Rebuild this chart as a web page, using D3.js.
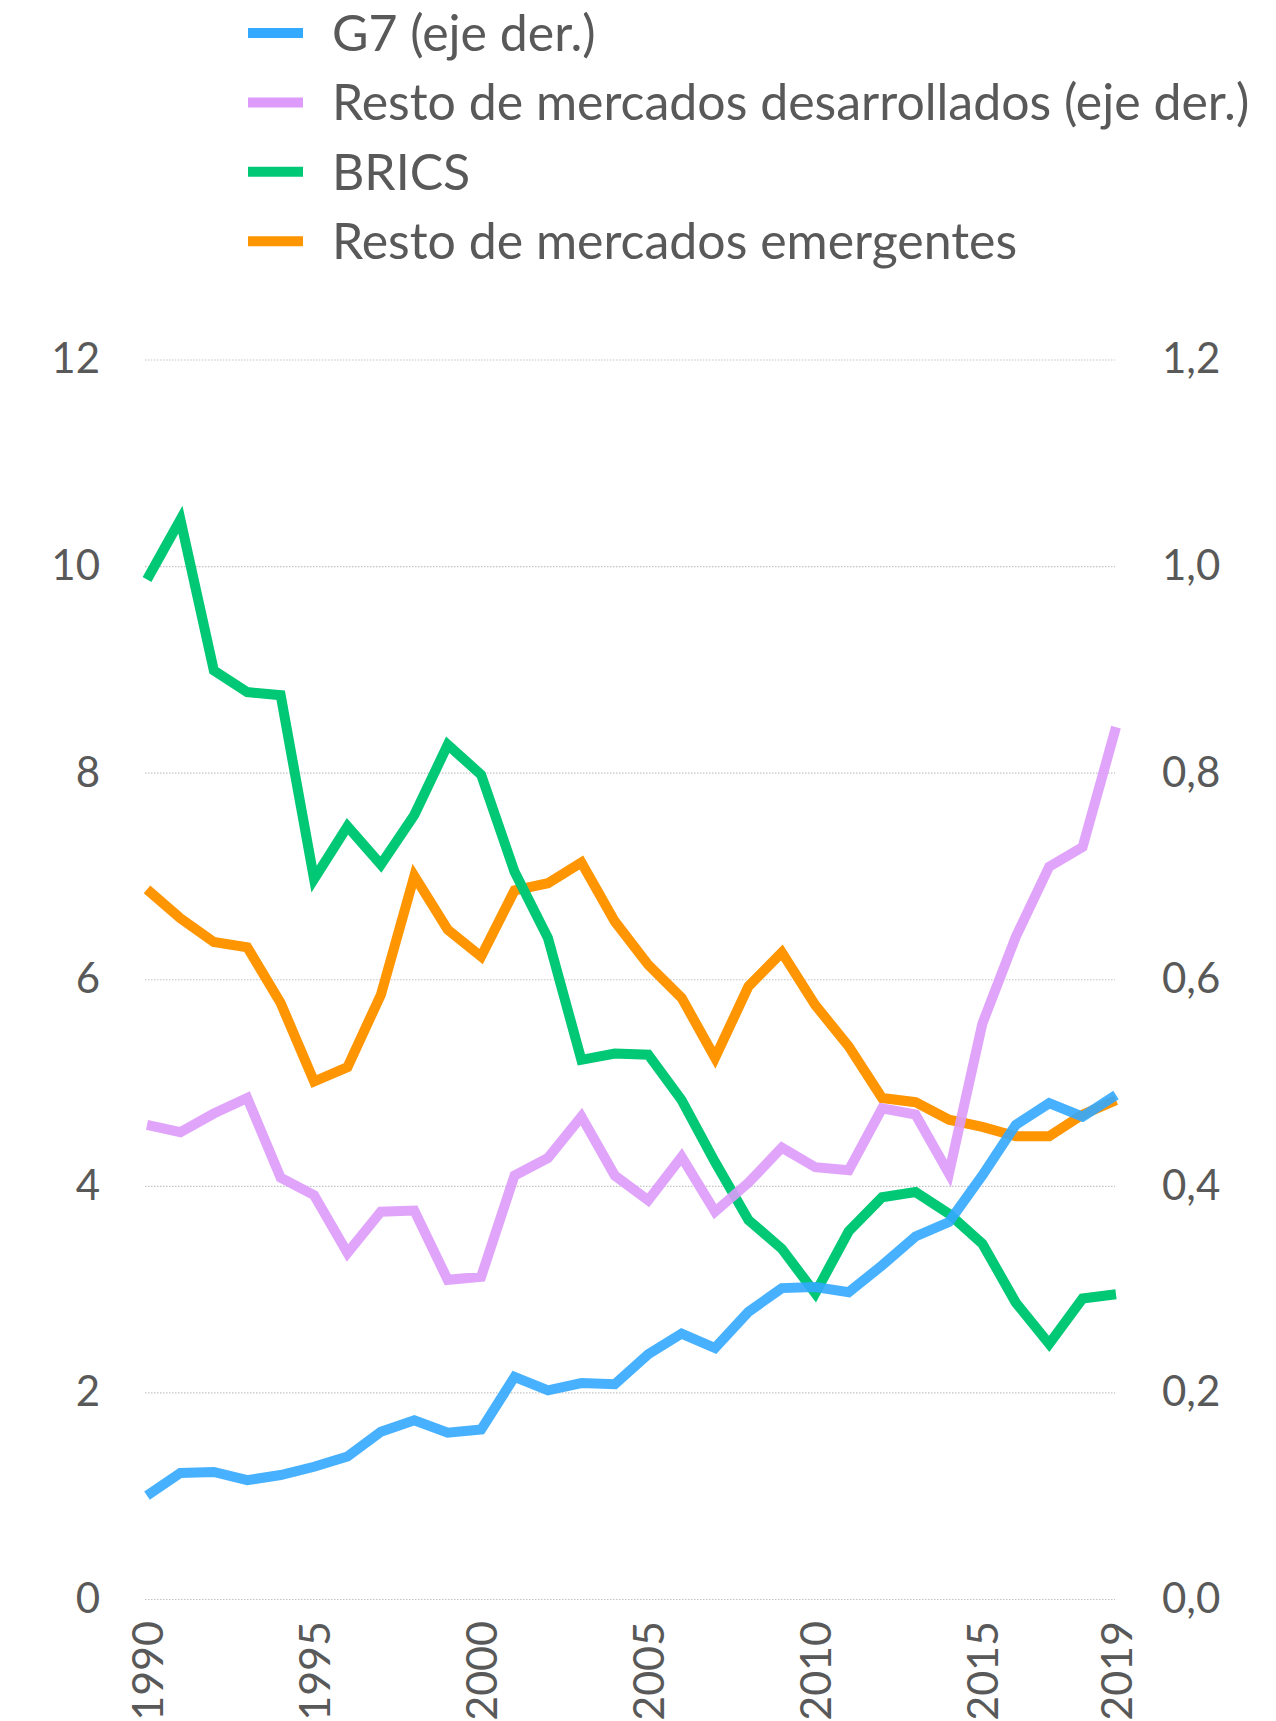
<!DOCTYPE html>
<html>
<head>
<meta charset="utf-8">
<script src="https://cdn.jsdelivr.net/npm/d3@7"></script>
<style>
  body { margin: 0; background: #fff; }
  text { font-family: Lato, "Open Sans", sans-serif; fill: #595959; }
</style>
</head>
<body>
<svg id="chart" width="1276" height="1721"></svg>
<script>
const years = [1990, 1991, 1992, 1993, 1994, 1995, 1996, 1997, 1998, 1999,
  2000, 2001, 2002, 2003, 2004, 2005, 2006, 2007, 2008, 2009,
  2010, 2011, 2012, 2013, 2014, 2015, 2016, 2017, 2018, 2019];

// right axis
const g7 = [0.100, 0.122, 0.123, 0.115, 0.120, 0.128, 0.138, 0.162, 0.173, 0.161,
  0.164, 0.215, 0.202, 0.209, 0.208, 0.237, 0.257, 0.243, 0.278, 0.301,
  0.302, 0.297, 0.323, 0.351, 0.365, 0.410, 0.459, 0.480, 0.467, 0.488];
const restoDesarrollados = [0.459, 0.452, 0.470, 0.485, 0.408, 0.391, 0.335, 0.375, 0.376, 0.309,
  0.312, 0.410, 0.427, 0.467, 0.410, 0.386, 0.428, 0.375, 0.403, 0.437,
  0.418, 0.415, 0.475, 0.469, 0.412, 0.557, 0.641, 0.709, 0.728, 0.844];
// left axis
const brics = [9.87, 10.45, 8.99, 8.78, 8.75, 6.97, 7.48, 7.11, 7.59, 8.27,
  7.98, 7.04, 6.40, 5.22, 5.28, 5.27, 4.83, 4.23, 3.67, 3.39,
  2.96, 3.56, 3.89, 3.94, 3.73, 3.44, 2.87, 2.47, 2.91, 2.95];
const restoEmergentes = [6.87, 6.59, 6.36, 6.31, 5.77, 5.01, 5.15, 5.85, 7.00, 6.48,
  6.22, 6.86, 6.93, 7.13, 6.56, 6.14, 5.82, 5.24, 5.93, 6.26,
  5.75, 5.35, 4.85, 4.81, 4.64, 4.57, 4.48, 4.48, 4.69, 4.83];

const leftTicks = [0, 2, 4, 6, 8, 10, 12];
const rightTicks = [0, 0.2, 0.4, 0.6, 0.8, 1.0, 1.2];
const xTicks = [1990, 1995, 2000, 2005, 2010, 2015, 2019];

const legendItems = [
  { name: "G7 (eje der.)", color: "#33a9ff" },
  { name: "Resto de mercados desarrollados (eje der.)", color: "#dd9bfb" },
  { name: "BRICS", color: "#00c875" },
  { name: "Resto de mercados emergentes", color: "#ff9500" }
];

const svg = d3.select("#chart");
const axisFont = 42;
const xFont = 43;
const legendFont = 50;

const x = d3.scaleLinear().domain([1990, 2019]).range([147, 1116]);
const yL = d3.scaleLinear().domain([0, 12]).range([1599, 359.5]);
const yR = d3.scaleLinear().domain([0, 1.2]).range([1599, 359.5]);

const es = d3.formatLocale({ decimal: ",", thousands: ".", grouping: [3], currency: ["", " €"] });
const fmt1 = es.format(".1f");

// gridlines
svg.append("g")
  .attr("transform", "translate(145,0)")
  .call(d3.axisLeft(yL).tickValues(leftTicks).tickSize(-970).tickFormat(""))
  .call(g => g.select(".domain").remove())
  .call(g => g.selectAll("line")
    .attr("stroke", "#c4c4c4")
    .attr("stroke-width", 1.2)
    .attr("stroke-dasharray", "1.5,1.5"));

// left axis labels
svg.append("g")
  .attr("transform", "translate(100,0)")
  .call(d3.axisLeft(yL).tickValues(leftTicks).tickSize(0).tickPadding(0).tickFormat(d3.format("d")))
  .call(g => g.select(".domain").remove())
  .call(g => g.selectAll("text").attr("font-size", axisFont).attr("fill", "#595959"));

// right axis labels
svg.append("g")
  .attr("transform", "translate(1162,0)")
  .call(d3.axisRight(yR).tickValues(rightTicks).tickSize(0).tickPadding(0).tickFormat(fmt1))
  .call(g => g.select(".domain").remove())
  .call(g => g.selectAll("text").attr("font-size", axisFont).attr("fill", "#595959"));

// x axis labels, rotated
svg.append("g")
  .attr("transform", "translate(0,1621)")
  .call(d3.axisBottom(x).tickValues(xTicks).tickSize(0).tickPadding(0).tickFormat(d3.format("d")))
  .call(g => g.select(".domain").remove())
  .call(g => g.selectAll("text")
    .attr("font-size", xFont)
    .attr("fill", "#595959")
    .attr("transform", "rotate(-90)")
    .attr("text-anchor", "end")
    .attr("x", 0)
    .attr("y", 0)
    .attr("dy", "0.36em"));

const series = [
  { values: restoEmergentes, y: yL, color: legendItems[3].color, opacity: 1 },
  { values: brics, y: yL, color: legendItems[2].color, opacity: 1 },
  { values: restoDesarrollados, y: yR, color: legendItems[1].color, opacity: 0.9 },
  { values: g7, y: yR, color: legendItems[0].color, opacity: 0.9 }
];

series.forEach(s => {
  const line = d3.line()
    .x((d, i) => x(years[i]))
    .y(d => s.y(d));
  svg.append("path")
    .datum(s.values)
    .attr("fill", "none")
    .attr("stroke", s.color)
    .attr("stroke-width", 10)
    .attr("stroke-opacity", s.opacity)
    .attr("stroke-linejoin", "miter")
    .attr("d", line);
});

// legend
const legend = svg.append("g").attr("transform", "translate(248,33)");
const row = legend.selectAll("g")
  .data(legendItems)
  .join("g")
  .attr("transform", (d, i) => `translate(0,${i * 69.4})`);
row.append("line")
  .attr("x1", 0).attr("x2", 55)
  .attr("stroke", d => d.color)
  .attr("stroke-width", 10);
row.append("text")
  .attr("x", 84)
  .attr("dy", "0.36em")
  .attr("font-size", legendFont)
  .text(d => d.name);
</script>
</body>
</html>
